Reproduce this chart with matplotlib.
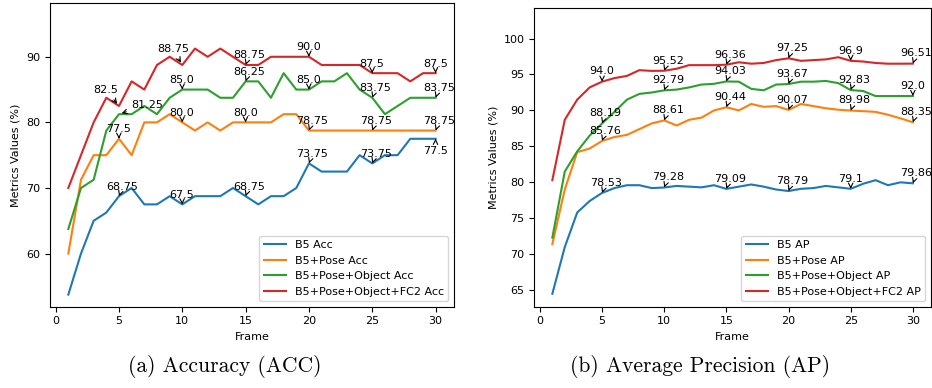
import matplotlib
matplotlib.use("Agg")
import matplotlib.pyplot as plt

frames = list(range(1, 31))

# accuracy (%)
acc_b5 = [53.75, 60, 65, 66.25, 68.75, 70, 67.5, 67.5, 68.75, 67.5,
          68.75, 68.75, 68.75, 70, 68.75, 67.5, 68.75, 68.75, 70, 73.75,
          72.5, 72.5, 72.5, 75, 73.75, 75, 75, 77.5, 77.5, 77.5]
acc_pose = [60, 71.25, 75, 75, 77.5, 75, 80, 80, 81.25, 80,
            78.75, 80, 78.75, 80, 80, 80, 80, 81.25, 81.25, 78.75,
            78.75, 78.75, 78.75, 78.75, 78.75, 78.75, 78.75, 78.75, 78.75, 78.75]
acc_obj = [63.75, 70, 71.25, 78.75, 81.25, 81.25, 82.5, 81.25, 83.75, 85,
           85, 85, 83.75, 83.75, 86.25, 86.25, 83.75, 87.5, 85, 85,
           86.25, 86.25, 87.5, 85, 83.75, 81.25, 82.5, 83.75, 83.75, 83.75]
acc_fc2 = [70, 75, 80, 83.75, 82.5, 86.25, 85, 88.75, 90, 88.75,
           91.25, 90, 91.25, 90, 88.75, 88.75, 90, 90, 90, 90,
           88.75, 88.75, 88.75, 88.75, 87.5, 87.5, 87.5, 86.25, 87.5, 87.5]

# average precision (%)
ap_b5 = [64.5, 71.0, 75.8, 77.4, 78.53, 79.2, 79.6, 79.6, 79.2, 79.28,
         79.5, 79.4, 79.3, 79.6, 79.09, 79.4, 79.7, 79.4, 79.0, 78.79,
         79.1, 79.2, 79.5, 79.3, 79.1, 79.8, 80.3, 79.6, 80.0, 79.86]
ap_pose = [71.4, 79.0, 84.2, 84.7, 85.76, 86.3, 86.6, 87.4, 88.2, 88.61,
           87.9, 88.7, 89.0, 90.0, 90.44, 90.0, 90.9, 90.5, 90.6, 90.07,
           90.9, 90.6, 90.3, 90.1, 89.98, 89.9, 89.8, 89.4, 88.9, 88.35]
ap_obj = [72.3, 81.5, 84.3, 86.5, 88.19, 89.8, 91.5, 92.3, 92.5, 92.79,
          92.9, 93.2, 93.6, 93.7, 94.03, 94.0, 93.0, 92.8, 93.6, 93.67,
          94.0, 94.0, 94.1, 93.8, 92.83, 92.7, 92.0, 92.0, 92.0, 92.0]
ap_fc2 = [80.3, 88.7, 91.5, 93.2, 94.0, 94.5, 94.8, 95.6, 95.5, 95.52,
          95.8, 96.3, 96.3, 96.3, 96.36, 96.7, 96.5, 96.6, 97.0, 97.25,
          96.9, 97.0, 97.1, 97.4, 96.9, 96.8, 96.6, 96.5, 96.5, 96.51]

acc_names = ["B5 Acc", "B5+Pose Acc", "B5+Pose+Object Acc", "B5+Pose+Object+FC2 Acc"]
ap_names = ["B5 AP", "B5+Pose AP", "B5+Pose+Object AP", "B5+Pose+Object+FC2 AP"]
marked = [5, 10, 15, 20, 25, 30]
colors = ["#1f77b4", "#ff7f0e", "#2ca02c", "#d62728"]

# label offsets (frames, value) that differ from the default (-1, +1)
acc_offsets = {(3, 5): (-2, 2), (3, 10): (-2, 2), (2, 5): (1, 1), (0, 30): (-1, -2.3)}

fig = plt.figure(figsize=(9.32, 3.88), dpi=100)
ax1 = fig.add_axes([0.0536, 0.2095, 0.4335, 0.7828])
ax2 = fig.add_axes([0.5733, 0.2095, 0.4255, 0.7690])


def draw(ax, series, names, offsets, ylim):
    for i, (vals, name) in enumerate(zip(series, names)):
        ax.plot(frames, vals, color=colors[i], linewidth=1.5, label=name)
        for f in marked:
            v = float(vals[f - 1])
            dx, dy = offsets.get((i, f), (-1, 1))
            ax.annotate(str(v), xy=(f, v), xytext=(f + dx, v + dy), fontsize=8,
                        arrowprops=dict(arrowstyle="->", color="black", lw=0.8))
    ax.set_ylim(*ylim)
    ax.set_xticks([0, 5, 10, 15, 20, 25, 30])
    ax.set_xlabel("Frame", fontsize=8)
    ax.set_ylabel("Metrics Values (%)", fontsize=8)
    ax.tick_params(labelsize=8)
    ax.legend(loc="lower right", fontsize=8)


draw(ax1, [acc_b5, acc_pose, acc_obj, acc_fc2], acc_names, acc_offsets, (51.9, 98.2))
draw(ax2, [ap_b5, ap_pose, ap_obj, ap_fc2], ap_names, {}, (62.7, 104.2))

fig.text(0.241, 0.04, "(a) Accuracy (ACC)", ha="center", fontsize=15.5, family="cmr10")
fig.text(0.751, 0.04, "(b) Average Precision (AP)", ha="center", fontsize=15.5, family="cmr10")

fig.savefig("out.png", dpi=100)
